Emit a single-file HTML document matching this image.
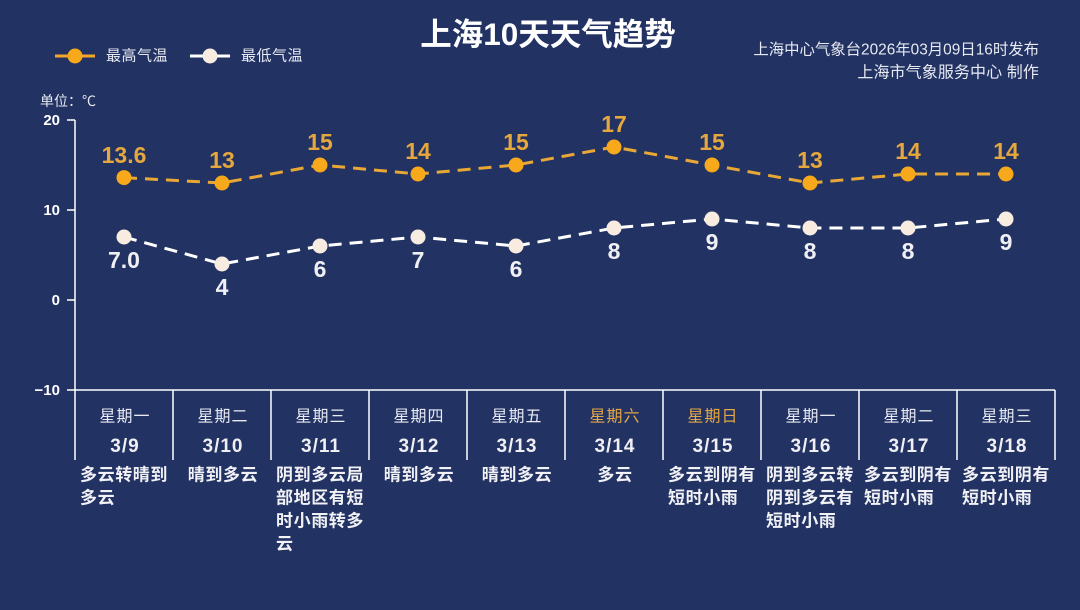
<!DOCTYPE html>
<html><head><meta charset="utf-8">
<style>
html,body{margin:0;padding:0;background:#213263;}
svg{display:block;}
text{font-family:"Liberation Sans","Noto Sans CJK SC",sans-serif;}
</style></head>
<body>
<svg width="1080" height="610" viewBox="0 0 1080 610" xmlns="http://www.w3.org/2000/svg">
<rect width="1080" height="610" fill="#213263"/>

<!-- Title -->
<text x="548" y="34" text-anchor="middle" dominant-baseline="central" font-size="31.5" font-weight="bold" fill="#ffffff">上海10天天气趋势</text>

<!-- Legend -->
<line x1="55" y1="56" x2="95" y2="56" stroke="#f2a72a" stroke-width="3"/>
<circle cx="75" cy="56" r="7.5" fill="#f7a81b"/>
<text x="106" y="56" dominant-baseline="central" font-size="15" fill="#e8eaf2" letter-spacing="0.5">最高气温</text>
<line x1="190" y1="56" x2="230" y2="56" stroke="#ffffff" stroke-width="3"/>
<circle cx="210" cy="56" r="7.5" fill="#f8ece0"/>
<text x="241" y="56" dominant-baseline="central" font-size="15" fill="#e8eaf2" letter-spacing="0.5">最低气温</text>

<!-- Source -->
<text x="1039" y="50" text-anchor="end" dominant-baseline="central" font-size="15.4" fill="#e8eaf2">上海中心气象台2026年03月09日16时发布</text>
<text x="1039" y="73" text-anchor="end" dominant-baseline="central" font-size="16" fill="#e8eaf2" letter-spacing="0.1">上海市气象服务中心 制作</text>

<!-- Unit -->
<text x="40" y="101" dominant-baseline="central" font-size="14" fill="#e8eaf2">单位：℃</text>

<!-- Axis -->
<g stroke="#ffffff" stroke-width="1.5" fill="none">
<line x1="75" y1="120" x2="75" y2="460"/>
<line x1="67" y1="120" x2="75" y2="120"/>
<line x1="67" y1="210" x2="75" y2="210"/>
<line x1="67" y1="300" x2="75" y2="300"/>
<line x1="67" y1="390" x2="1055" y2="390"/>
<line x1="173" y1="390" x2="173" y2="460"/>
<line x1="271" y1="390" x2="271" y2="460"/>
<line x1="369" y1="390" x2="369" y2="460"/>
<line x1="467" y1="390" x2="467" y2="460"/>
<line x1="565" y1="390" x2="565" y2="460"/>
<line x1="663" y1="390" x2="663" y2="460"/>
<line x1="761" y1="390" x2="761" y2="460"/>
<line x1="859" y1="390" x2="859" y2="460"/>
<line x1="957" y1="390" x2="957" y2="460"/>
<line x1="1055" y1="390" x2="1055" y2="460"/>
</g>
<g font-size="15" font-weight="bold" fill="#ffffff" text-anchor="end">
<text x="60" y="125">20</text>
<text x="60" y="215">10</text>
<text x="60" y="305">0</text>
<text x="60" y="395">−10</text>
</g>

<!-- High series -->
<polyline points="124,177.6 222,183 320,165 418,174 516,165 614,147 712,165 810,183 908,174 1006,174" fill="none" stroke="#e9a835" stroke-width="3" stroke-dasharray="13,8"/>
<g fill="#f7a81b">
<circle cx="124" cy="177.6" r="7.5"/><circle cx="222" cy="183" r="7.5"/><circle cx="320" cy="165" r="7.5"/>
<circle cx="418" cy="174" r="7.5"/><circle cx="516" cy="165" r="7.5"/><circle cx="614" cy="147" r="7.5"/>
<circle cx="712" cy="165" r="7.5"/><circle cx="810" cy="183" r="7.5"/><circle cx="908" cy="174" r="7.5"/>
<circle cx="1006" cy="174" r="7.5"/>
</g>
<g fill="#e6a73c" font-size="23" font-weight="bold" text-anchor="middle">
<text x="124" y="163">13.6</text><text x="222" y="168">13</text><text x="320" y="150">15</text>
<text x="418" y="159">14</text><text x="516" y="150">15</text><text x="614" y="132">17</text>
<text x="712" y="150">15</text><text x="810" y="168">13</text><text x="908" y="159">14</text>
<text x="1006" y="159">14</text>
</g>

<!-- Low series -->
<polyline points="124,237 222,264 320,246 418,237 516,246 614,228 712,219 810,228 908,228 1006,219" fill="none" stroke="#ffffff" stroke-width="3" stroke-dasharray="13,8"/>
<g fill="#f8ece0">
<circle cx="124" cy="237" r="7.5"/><circle cx="222" cy="264" r="7.5"/><circle cx="320" cy="246" r="7.5"/>
<circle cx="418" cy="237" r="7.5"/><circle cx="516" cy="246" r="7.5"/><circle cx="614" cy="228" r="7.5"/>
<circle cx="712" cy="219" r="7.5"/><circle cx="810" cy="228" r="7.5"/><circle cx="908" cy="228" r="7.5"/>
<circle cx="1006" cy="219" r="7.5"/>
</g>
<g fill="#f0f0f4" font-size="23" font-weight="bold" text-anchor="middle">
<text x="124" y="268">7.0</text><text x="222" y="295">4</text><text x="320" y="277">6</text>
<text x="418" y="268">7</text><text x="516" y="277">6</text><text x="614" y="259">8</text>
<text x="712" y="250">9</text><text x="810" y="259">8</text><text x="908" y="259">8</text>
<text x="1006" y="250">9</text>
</g>

<!-- Weekdays -->
<g font-size="16" fill="#e8eaf2" text-anchor="middle" letter-spacing="1">
<text x="125" y="417" dominant-baseline="central">星期一</text>
<text x="223" y="417" dominant-baseline="central">星期二</text>
<text x="321" y="417" dominant-baseline="central">星期三</text>
<text x="419" y="417" dominant-baseline="central">星期四</text>
<text x="517" y="417" dominant-baseline="central">星期五</text>
<text x="615" y="417" dominant-baseline="central" fill="#e4a646">星期六</text>
<text x="713" y="417" dominant-baseline="central" fill="#e4a646">星期日</text>
<text x="811" y="417" dominant-baseline="central">星期一</text>
<text x="909" y="417" dominant-baseline="central">星期二</text>
<text x="1007" y="417" dominant-baseline="central">星期三</text>
</g>
<!-- Dates -->
<g font-size="19" font-weight="bold" fill="#f0f0f4" text-anchor="middle" letter-spacing="1">
<text x="125" y="452">3/9</text>
<text x="223" y="452">3/10</text>
<text x="321" y="452">3/11</text>
<text x="419" y="452">3/12</text>
<text x="517" y="452">3/13</text>
<text x="615" y="452">3/14</text>
<text x="713" y="452">3/15</text>
<text x="811" y="452">3/16</text>
<text x="909" y="452">3/17</text>
<text x="1007" y="452">3/18</text>
</g>

<!-- Descriptions -->
<g font-size="17" font-weight="bold" fill="#f2f2f6" letter-spacing="0.6">
<text x="80" y="475" dominant-baseline="central">多云转晴到</text>
<text x="80" y="498" dominant-baseline="central">多云</text>
<text x="223" y="475" dominant-baseline="central" text-anchor="middle">晴到多云</text>
<text x="276" y="475" dominant-baseline="central">阴到多云局</text>
<text x="276" y="498" dominant-baseline="central">部地区有短</text>
<text x="276" y="521" dominant-baseline="central">时小雨转多</text>
<text x="276" y="544" dominant-baseline="central">云</text>
<text x="419" y="475" dominant-baseline="central" text-anchor="middle">晴到多云</text>
<text x="517" y="475" dominant-baseline="central" text-anchor="middle">晴到多云</text>
<text x="615" y="475" dominant-baseline="central" text-anchor="middle">多云</text>
<text x="668" y="475" dominant-baseline="central">多云到阴有</text>
<text x="668" y="498" dominant-baseline="central">短时小雨</text>
<text x="766" y="475" dominant-baseline="central">阴到多云转</text>
<text x="766" y="498" dominant-baseline="central">阴到多云有</text>
<text x="766" y="521" dominant-baseline="central">短时小雨</text>
<text x="864" y="475" dominant-baseline="central">多云到阴有</text>
<text x="864" y="498" dominant-baseline="central">短时小雨</text>
<text x="962" y="475" dominant-baseline="central">多云到阴有</text>
<text x="962" y="498" dominant-baseline="central">短时小雨</text>
</g>
</svg>
</body></html>
